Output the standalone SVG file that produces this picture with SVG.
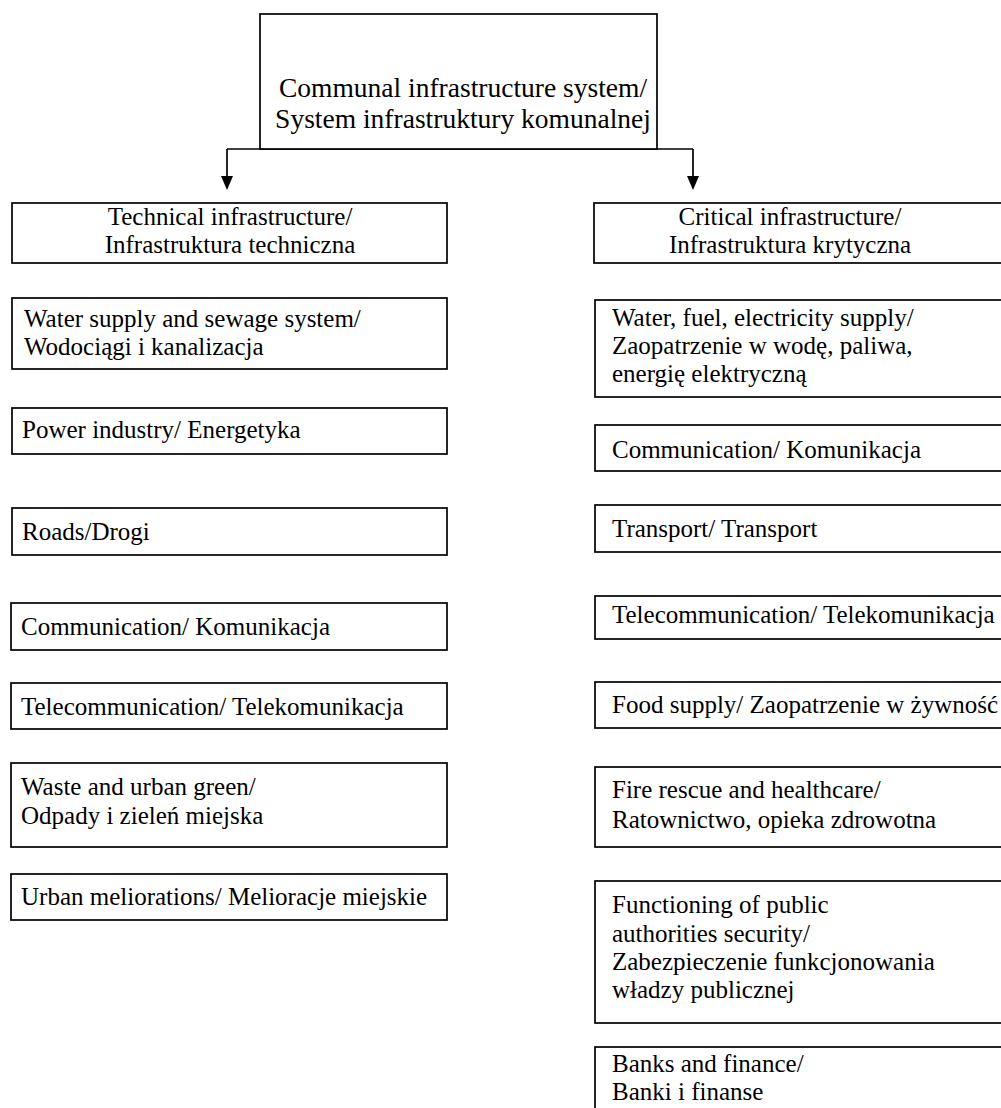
<svg xmlns="http://www.w3.org/2000/svg" width="1001" height="1108" viewBox="0 0 1001 1108">
<style>
  .box { fill: #ffffff; stroke: #000000; stroke-width: 1.7; }
  text { font-family: 'Liberation Serif', 'DejaVu Serif', serif; font-size: 25px; fill: #000000; }
  .top { font-size: 27.5px; }
  .c { text-anchor: middle; }
  .conn { fill: none; stroke: #000000; stroke-width: 1.7; }
  .head { fill: #000000; }
</style>
<rect width="1001" height="1108" fill="#ffffff"/>

<g id="connectors">
  <polyline class="conn" points="227,149 693,149"/>
  <line class="conn" x1="227" y1="149" x2="227" y2="178"/>
  <polygon class="head" points="221,176 233,176 227,190"/>
  <line class="conn" x1="693" y1="149" x2="693" y2="178"/>
  <polygon class="head" points="687,176 699,176 693,190"/>
</g>

<g id="root">
  <rect class="box" x="260" y="14" width="397" height="135"/>
  <text class="top c" x="463" y="97" font-family="Liberation Serif, serif">Communal infrastructure system/</text>
  <text class="top c" x="463" y="128" font-family="Liberation Serif, serif">System infrastruktury komunalnej</text>
</g>

<g id="technical" font-family="Liberation Serif, serif">
  <rect class="box" x="12" y="203" width="435" height="60"/>
  <text class="c" x="230" y="225">Technical infrastructure/</text>
  <text class="c" x="230" y="253">Infrastruktura techniczna</text>
</g>
<g id="critical">
  <rect class="box" x="594" y="203" width="420" height="60"/>
  <text class="c" x="790" y="225">Critical infrastructure/</text>
  <text class="c" x="790" y="253">Infrastruktura krytyczna</text>
</g>

<g id="t-water">
  <rect class="box" x="12" y="298" width="435" height="71"/>
  <text x="24" y="327">Water supply and sewage system/</text>
  <text x="24" y="355">Wodociągi i kanalizacja</text>
</g>
<g id="t-power">
  <rect class="box" x="12" y="408" width="435" height="46"/>
  <text x="22" y="438">Power industry/ Energetyka</text>
</g>
<g id="t-roads">
  <rect class="box" x="12" y="508" width="435" height="47"/>
  <text x="22" y="540">Roads/Drogi</text>
</g>
<g id="t-communication">
  <rect class="box" x="11" y="603" width="436" height="47"/>
  <text x="21" y="635">Communication/ Komunikacja</text>
</g>
<g id="t-telecom">
  <rect class="box" x="11" y="683" width="436" height="46"/>
  <text x="21" y="715">Telecommunication/ Telekomunikacja</text>
</g>
<g id="t-waste">
  <rect class="box" x="11" y="763" width="436" height="84"/>
  <text x="21" y="795">Waste and urban green/</text>
  <text x="21" y="824">Odpady i zieleń miejska</text>
</g>
<g id="t-meliorations">
  <rect class="box" x="11" y="874" width="436" height="46"/>
  <text x="21" y="905">Urban meliorations/ Melioracje miejskie</text>
</g>

<g id="c-water">
  <rect class="box" x="595" y="300" width="420" height="97"/>
  <text x="612" y="326">Water, fuel, electricity supply/</text>
  <text x="612" y="354">Zaopatrzenie w wodę, paliwa,</text>
  <text x="612" y="382">energię elektryczną</text>
</g>
<g id="c-communication">
  <rect class="box" x="595" y="425" width="420" height="46"/>
  <text x="612" y="458">Communication/ Komunikacja</text>
</g>
<g id="c-transport">
  <rect class="box" x="595" y="505" width="420" height="47"/>
  <text x="612" y="537">Transport/ Transport</text>
</g>
<g id="c-telecom">
  <rect class="box" x="595" y="596" width="420" height="43"/>
  <text x="612" y="623">Telecommunication/ Telekomunikacja</text>
</g>
<g id="c-food">
  <rect class="box" x="595" y="682" width="420" height="46"/>
  <text x="612" y="713">Food supply/ Zaopatrzenie w żywność</text>
</g>
<g id="c-fire">
  <rect class="box" x="595" y="767" width="420" height="80"/>
  <text x="612" y="798">Fire rescue and healthcare/</text>
  <text x="612" y="828">Ratownictwo, opieka zdrowotna</text>
</g>
<g id="c-authorities">
  <rect class="box" x="595" y="881" width="420" height="142"/>
  <text x="612" y="913">Functioning of public</text>
  <text x="612" y="942">authorities security/</text>
  <text x="612" y="970">Zabezpieczenie funkcjonowania</text>
  <text x="612" y="998">władzy publicznej</text>
</g>
<g id="c-banks">
  <rect class="box" x="595" y="1047" width="420" height="80"/>
  <text x="612" y="1072">Banks and finance/</text>
  <text x="612" y="1100">Banki i finanse</text>
</g>
</svg>
